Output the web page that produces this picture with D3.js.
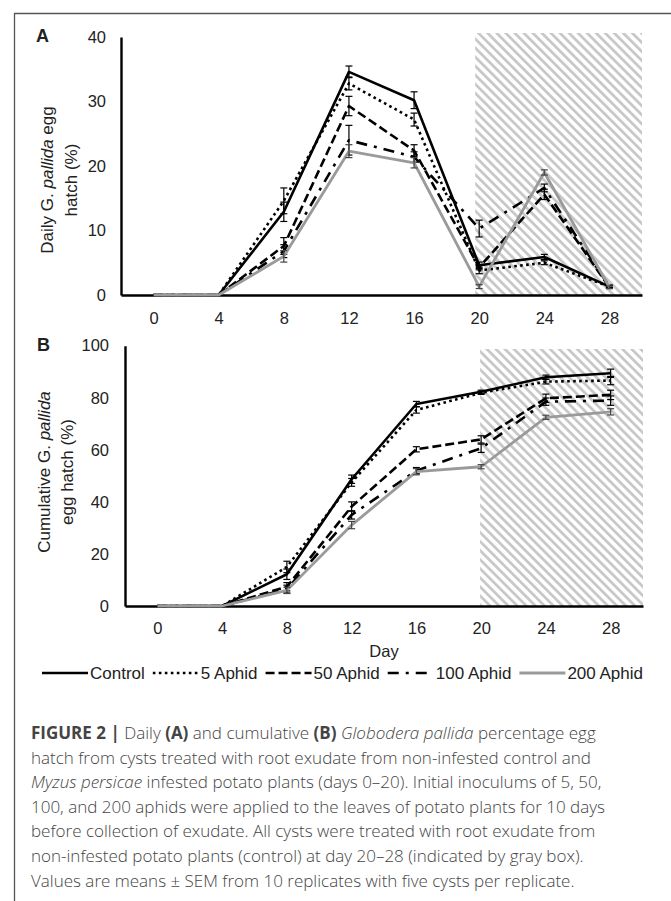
<!DOCTYPE html>
<html>
<head>
<meta charset="utf-8">
<script src="https://cdn.jsdelivr.net/npm/d3@7"></script>
<style>
  body { margin: 0; background: #fff; }
  svg text { font-family: "Liberation Sans", Arial, sans-serif; fill: #222; white-space: pre; }
  svg text.caption { font-family: "Open Sans", "Liberation Sans", sans-serif; fill: #444; font-size: 17px; font-weight: 300; }
</style>
</head>
<body>
<div id="chart"></div>
<script>
const days = [0, 4, 8, 12, 16, 20, 24, 28];
const seriesNames = ["Control", "5 Aphid", "50 Aphid", "100 Aphid", "200 Aphid"];

// Panel A: daily egg hatch (%)
const dailyControl  = [0, 0, 12.9, 34.6, 30.2, 4.6, 5.9, 1.3];
const daily5Aphid   = [0, 0, 14.6, 32.8, 27.2, 3.8, 5.0, 1.3];
const daily50Aphid  = [0, 0, 7.6, 29.3, 22.4, 4.3, 15.6, 1.2];
const daily100Aphid = [0, 0, 6.8, 24.0, 21.4, 10.3, 16.6, 1.3];
const daily200Aphid = [0, 0, 6.0, 22.3, 20.5, 1.3, 19.0, 1.2];

const dailySemControl  = [0, 0, 1.5, 0.9, 1.3, 0.5, 0.4, 0.2];
const dailySem5Aphid   = [0, 0, 2.0, 1.0, 1.0, 0.5, 0.3, 0.2];
const dailySem50Aphid  = [0, 0, 1.3, 1.5, 0.9, 0.4, 0.8, 0.2];
const dailySem100Aphid = [0, 0, 1.0, 2.3, 0.8, 1.3, 0.6, 0.2];
const dailySem200Aphid = [0, 0, 0.9, 1.0, 0.8, 0.3, 0.4, 0.2];

// Panel B: cumulative egg hatch (%)
const cumulControl  = [0, 0, 12.2, 48.7, 77.6, 82.3, 87.9, 89.4];
const cumul5Aphid   = [0, 0, 15.0, 47.5, 75.3, 81.9, 86.2, 86.6];
const cumul50Aphid  = [0, 0, 7.4, 38.2, 60.2, 64.0, 79.8, 81.1];
const cumul100Aphid = [0, 0, 6.5, 35.0, 52.0, 60.6, 78.5, 78.9];
const cumul200Aphid = [0, 0, 6.0, 31.1, 51.6, 53.5, 72.5, 74.6];

const cumulSemControl  = [0, 0, 2.0, 1.6, 1.0, 0.6, 0.8, 1.6];
const cumulSem5Aphid   = [0, 0, 2.2, 1.5, 1.2, 0.6, 0.9, 1.6];
const cumulSem50Aphid  = [0, 0, 1.6, 1.8, 1.0, 1.4, 1.6, 1.8];
const cumulSem100Aphid = [0, 0, 1.5, 1.6, 1.2, 1.6, 1.4, 1.8];
const cumulSem200Aphid = [0, 0, 1.2, 1.4, 1.2, 0.8, 0.8, 1.2];

const dailyTicks = [0, 10, 20, 30, 40];
const cumulTicks = [0, 20, 40, 60, 80, 100];
const hatchFromDay = 20;

// line look for each treatment
const lineStyles = {
  "Control":   { color: "#000",    width: 2.6, dash: null,          bar: "#000" },
  "5 Aphid":   { color: "#000",    width: 2.6, dash: "2.6,3.4",     bar: "#000" },
  "50 Aphid":  { color: "#000",    width: 2.6, dash: "9,4",         bar: "#000" },
  "100 Aphid": { color: "#000",    width: 2.6, dash: "11,7,3,7",    bar: "#000" },
  "200 Aphid": { color: "#9a9a9a", width: 2.8, dash: null,          bar: "#444" }
};

function buildSeries(means, sems) {
  return seriesNames.map((name, i) => ({
    name,
    points: days.map((day, j) => ({ day, v: means[i][j], sem: sems[i][j] }))
  }));
}

const dailySeries = buildSeries(
  [dailyControl, daily5Aphid, daily50Aphid, daily100Aphid, daily200Aphid],
  [dailySemControl, dailySem5Aphid, dailySem50Aphid, dailySem100Aphid, dailySem200Aphid]
);
const cumulSeries = buildSeries(
  [cumulControl, cumul5Aphid, cumul50Aphid, cumul100Aphid, cumul200Aphid],
  [cumulSemControl, cumulSem5Aphid, cumulSem50Aphid, cumulSem100Aphid, cumulSem200Aphid]
);

const svg = d3.select("#chart")
  .append("svg")
  .attr("width", 671)
  .attr("height", 901);

// frame around figure + caption
svg.append("path")
  .attr("d", "M14.5,901V13.5H671")
  .attr("fill", "none")
  .attr("stroke", "#555")
  .attr("stroke-width", 1.3);

svg.append("defs")
  .append("pattern")
  .attr("id", "hatch")
  .attr("patternUnits", "userSpaceOnUse")
  .attr("width", 6.4)
  .attr("height", 6.4)
  .attr("patternTransform", "rotate(-45)")
  .append("rect")
  .attr("width", 2.8)
  .attr("height", 6.4)
  .attr("fill", "#c8c8c8");

function drawPanel(opt) {
  const x = d3.scalePoint().domain(days).range([opt.left, opt.right]).padding(0.5);
  const y = d3.scaleLinear().domain([0, d3.max(opt.ticks)]).range([opt.bottom, opt.top]);
  const g = svg.append("g");

  // gray box = control exudate period
  g.append("rect")
    .attr("x", x(hatchFromDay) - opt.hatchLead)
    .attr("y", opt.hatchTop)
    .attr("width", opt.right - x(hatchFromDay) + opt.hatchLead)
    .attr("height", opt.bottom - opt.hatchTop)
    .attr("fill", "url(#hatch)");

  const yAxis = g.append("g")
    .attr("transform", `translate(${opt.left},0)`)
    .call(d3.axisLeft(y).tickValues(opt.ticks).tickSize(0).tickPadding(opt.yPad));
  const xAxis = g.append("g")
    .attr("transform", `translate(0,${opt.bottom})`)
    .call(d3.axisBottom(x).tickSize(0).tickPadding(opt.xPad));

  [yAxis, xAxis].forEach((a) => {
    a.select(".domain").attr("stroke", "#000").attr("stroke-width", 2.4);
    a.selectAll("text").attr("font-size", 16.5).attr("fill", "#222").attr("font-family", null);
  });

  const line = d3.line().x((d) => x(d.day)).y((d) => y(d.v));

  const sg = g.selectAll("g.series")
    .data(opt.series)
    .join("g")
    .attr("class", "series");

  sg.append("path")
    .attr("d", (d) => line(d.points))
    .attr("fill", "none")
    .attr("stroke", (d) => lineStyles[d.name].color)
    .attr("stroke-width", (d) => lineStyles[d.name].width)
    .attr("stroke-dasharray", (d) => lineStyles[d.name].dash)
    .attr("stroke-linejoin", "round");

  // SEM error bars
  sg.each(function (s) {
    const bars = d3.select(this).selectAll("g.err")
      .data(s.points.filter((p) => p.sem > 0))
      .join("g")
      .attr("class", "err")
      .attr("stroke", lineStyles[s.name].bar)
      .attr("stroke-width", 1.2);
    bars.append("line")
      .attr("x1", (p) => x(p.day)).attr("x2", (p) => x(p.day))
      .attr("y1", (p) => y(p.v - p.sem)).attr("y2", (p) => y(p.v + p.sem));
    [-1, 1].forEach((k) => {
      bars.append("line")
        .attr("x1", (p) => x(p.day) - 3.5).attr("x2", (p) => x(p.day) + 3.5)
        .attr("y1", (p) => y(p.v + k * p.sem)).attr("y2", (p) => y(p.v + k * p.sem));
    });
  });

  // panel letter
  g.append("text")
    .attr("x", opt.letterX)
    .attr("y", opt.letterY)
    .attr("font-size", 18)
    .attr("font-weight", "bold")
    .text(opt.letter);

  // rotated y label, two lines
  opt.yLabel.forEach((parts, li) => {
    const t = g.append("text")
      .attr("transform", `translate(${opt.yLabelX[li]},${opt.yLabelY}) rotate(-90)`)
      .attr("text-anchor", "middle")
      .attr("font-size", 17);
    parts.forEach((p) => {
      t.append("tspan")
        .attr("font-style", p.italic ? "italic" : null)
        .text(p.text);
    });
  });

  return x;
}

drawPanel({
  series: dailySeries, ticks: dailyTicks,
  left: 121, right: 642, top: 37, bottom: 295,
  hatchTop: 33, hatchLead: 4, yPad: 15, xPad: 17,
  letter: "A", letterX: 36, letterY: 42,
  yLabelX: [53, 77], yLabelY: 180,
  yLabel: [
    [{ text: "Daily G. " }, { text: "pallida", italic: true }, { text: " egg" }],
    [{ text: "hatch (%)" }]
  ]
});

const xB = drawPanel({
  series: cumulSeries, ticks: cumulTicks,
  left: 125, right: 643, top: 345.7, bottom: 606,
  hatchTop: 349, hatchLead: 1, yPad: 16, xPad: 16,
  letter: "B", letterX: 37, letterY: 351,
  yLabelX: [50, 73], yLabelY: 472,
  yLabel: [
    [{ text: "Cumulative G. " }, { text: "pallida", italic: true }],
    [{ text: "egg hatch (%)" }]
  ]
});

svg.append("text")
  .attr("x", (xB.range()[0] + xB.range()[1]) / 2)
  .attr("y", 657)
  .attr("text-anchor", "middle")
  .attr("font-size", 16.5)
  .text("Day");

// legend
const legend = svg.append("g").attr("transform", "translate(42,673)");
let lx = 0;
seriesNames.forEach((name) => {
  const st = lineStyles[name];
  legend.append("line")
    .attr("x1", lx).attr("x2", lx + 46)
    .attr("y1", 0).attr("y2", 0)
    .attr("stroke", st.color)
    .attr("stroke-width", st.width)
    .attr("stroke-dasharray", st.dash);
  const t = legend.append("text")
    .attr("x", lx + 48)
    .attr("y", 6)
    .attr("font-size", 17)
    .text(name);
  lx += 48 + t.node().getComputedTextLength() + 8;
});

// caption
const captionLines = [
  [{ t: "FIGURE 2 | ", b: true }, { t: "Daily " }, { t: "(A)", b: true }, { t: " and cumulative " },
   { t: "(B)", b: true }, { t: " " }, { t: "Globodera pallida", i: true }, { t: " percentage egg" }],
  [{ t: "hatch from cysts treated with root exudate from non-infested control and" }],
  [{ t: "Myzus persicae", i: true }, { t: " infested potato plants (days 0–20). Initial inoculums of 5, 50," }],
  [{ t: "100, and 200 aphids were applied to the leaves of potato plants for 10 days" }],
  [{ t: "before collection of exudate. All cysts were treated with root exudate from" }],
  [{ t: "non-infested potato plants (control) at day 20–28 (indicated by gray box)." }],
  [{ t: "Values are means ± SEM from 10 replicates with five cysts per replicate." }]
];

captionLines.forEach((parts, i) => {
  const t = svg.append("text")
    .attr("class", "caption")
    .attr("x", 31)
    .attr("y", 739 + i * 24.6);
  parts.forEach((p) => {
    t.append("tspan")
      .attr("font-weight", p.b ? "bold" : null)
      .attr("font-style", p.i ? "italic" : null)
      .text(p.t);
  });
});
</script>
</body>
</html>
